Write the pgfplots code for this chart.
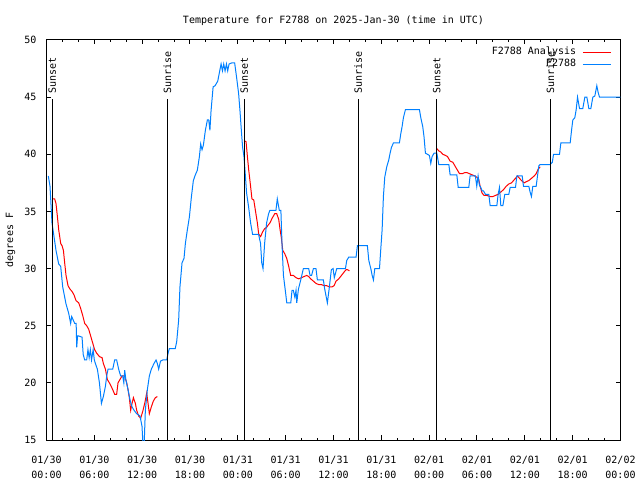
\documentclass[border=0pt]{standalone}
\usepackage{pgfplots}
\pgfplotsset{compat=1.18}
\usepackage{fontspec}
\setmainfont{DejaVu Sans Mono}
\definecolor{obsblue}{RGB}{0,128,255}
\begin{document}
\begin{tikzpicture}[font=\fontsize{10bp}{15bp}\selectfont]
\useasboundingbox (0,0) rectangle (640bp,480bp);
\begin{axis}[
  at={(46.5bp,40bp)}, anchor=south west,
  scale only axis, width=574bp, height=400bp,
  xmin=0, xmax=72, ymin=15, ymax=50,
  xtick={0,6,...,72}, minor x tick num=2,
  ytick={15,20,...,50},
  xticklabels={{01/30\\00:00},{01/30\\06:00},{01/30\\12:00},{01/30\\18:00},{01/31\\00:00},{01/31\\06:00},{01/31\\12:00},{01/31\\18:00},{02/01\\00:00},{02/01\\06:00},{02/01\\12:00},{02/01\\18:00},{02/02\\00:00}},
  xticklabel style={align=center, anchor=north, inner sep=0pt, yshift=-16bp},
  yticklabel style={anchor=east, inner sep=0pt, xshift=-10bp},
  /pgf/number format/assume math mode=true,
  tick align=inside,
  major tick length=4.5bp, minor tick length=2.5bp,
  axis line style={line width=1bp},
  every tick/.style={black, line width=1bp},
  title={Temperature for F2788 on 2025-Jan-30 (time in UTC)},
  title style={at={(axis description cs:0.5,1)}, anchor=base, yshift=11bp, inner sep=0pt},
  ylabel={degrees F},
  ylabel style={at={(axis description cs:-0.0627,0.5)}, anchor=center, inner sep=0pt},
  legend plot pos=right,
  legend cell align=right,
  legend image code/.code={\draw[#1, line width=1bp] (0bp,0bp) -- (28bp,0bp);},
  legend style={draw=none, fill=none, at={(axis description cs:1,1)}, anchor=north east,
    xshift=-9bp, yshift=-6bp, inner sep=0pt, row sep=0pt, column sep=4.7bp,
    nodes={inner sep=1.5bp, text height=7bp, text depth=2bp}},
]
\addplot[red, line width=1bp] coordinates {
(0.77,36.1)(1.02,36.1)(1.19,35.7)(1.36,34.6)(1.53,33.4)(1.78,32.2)(1.95,32.0)(2.12,31.6)(2.28,30.5)(2.45,29.4)
(2.70,28.5)(2.95,28.2)(3.20,28.0)(3.45,27.7)(3.70,27.2)(4.04,27.0)(4.29,26.5)(4.54,25.9)(4.79,25.2)(5.04,25.0)
(5.29,24.7)(5.54,24.1)(5.79,23.5)(6.04,22.9)(6.29,22.6)(6.64,22.3)(6.97,22.2)(7.13,21.7)(7.39,21.2)(7.63,20.3)
(7.97,19.9)(8.31,19.4)(8.55,19.0)(8.80,19.0)(8.97,20.0)(9.22,20.3)(9.47,20.6)(9.81,20.6)(10.06,20.0)(10.23,19.4)
(10.39,18.7)(10.56,17.6)(10.73,18.2)(10.90,18.7)(11.15,18.2)(11.31,17.6)(11.56,17.1)(11.81,16.9)(12.07,17.5)(12.32,18.2)
(12.57,19.1)(12.74,18.2)(12.90,17.3)(13.15,17.9)(13.40,18.4)(13.65,18.7)(13.90,18.8)};
\addlegendentry{F2788 Analysis}
\addplot[red, line width=1bp, forget plot] coordinates {
(24.78,41.2)(25.03,41.1)(25.20,39.8)(25.37,38.6)(25.60,37.2)(25.77,36.1)(26.00,36.0)(26.20,35.1)(26.45,34.0)(26.62,33.0)
(26.86,32.8)(27.10,33.2)(27.37,33.5)(27.60,33.6)(27.80,33.8)(28.03,34.0)(28.30,34.4)(28.63,34.8)(28.88,34.8)(29.13,34.3)
(29.30,33.4)(29.46,32.7)(29.63,31.6)(29.88,31.3)(30.13,30.9)(30.38,30.2)(30.63,29.4)(30.97,29.4)(31.30,29.2)(31.64,29.1)
(31.97,29.2)(32.30,29.3)(32.64,29.4)(32.89,29.3)(33.14,29.1)(33.48,28.9)(33.81,28.7)(34.15,28.6)(34.48,28.6)(34.82,28.5)
(35.15,28.5)(35.49,28.4)(35.82,28.4)(36.07,28.5)(36.32,28.9)(36.66,29.1)(37.00,29.4)(37.33,29.7)(37.58,29.9)(37.75,29.9)(38.00,29.8)};
\addplot[red, line width=1bp, forget plot] coordinates {
(48.96,40.5)(49.20,40.3)(49.46,40.2)(49.71,40.0)(50.05,39.9)(50.30,39.8)(50.63,39.4)(50.97,39.3)(51.22,39.0)(51.47,38.7)
(51.81,38.3)(52.14,38.3)(52.48,38.4)(52.73,38.4)(53.06,38.3)(53.40,38.2)(53.73,38.1)(53.97,38.0)(54.22,37.8)(54.39,37.2)
(54.64,36.6)(54.89,36.4)(55.23,36.4)(55.65,36.3)(55.98,36.3)(56.32,36.4)(56.65,36.5)(56.99,36.7)(57.32,36.9)(57.66,37.2)
(57.99,37.4)(58.33,37.5)(58.58,37.7)(58.83,37.9)(59.08,38.1)(59.33,37.9)(59.58,37.7)(59.92,37.5)(60.17,37.6)(60.50,37.7)
(60.84,37.9)(61.17,38.1)(61.42,38.3)(61.67,38.7)(61.92,38.9)};
\addplot[obsblue, line width=1bp] coordinates {
(0.23,38.1)(0.44,37.2)(0.69,34.0)(0.94,32.8)(1.19,31.6)(1.53,30.4)(1.78,30.2)(2.03,28.4)(2.28,27.5)(2.45,26.9)
(2.78,26.1)(3.03,25.2)(3.16,25.8)(3.35,25.5)(3.54,25.2)(3.72,25.2)(3.79,23.1)(3.90,24.1)(4.04,24.1)(4.46,24.0)
(4.60,22.5)(4.79,22.0)(5.04,22.0)(5.20,22.9)(5.35,22.2)(5.50,22.9)(5.65,22.0)(5.85,22.9)(6.00,22.0)(6.13,21.7)
(6.38,21.2)(6.64,20.0)(6.89,18.2)(7.13,18.8)(7.39,19.7)(7.55,20.6)(7.72,21.2)(8.31,21.2)(8.55,22.0)(8.80,22.0)
(9.05,21.2)(9.30,20.6)(9.56,20.6)(9.70,20.0)(9.81,21.1)(9.95,20.3)(10.23,19.4)(10.48,18.5)(10.73,17.9)(10.98,17.6)
(11.31,17.3)(11.73,17.1)(11.98,16.2)(12.10,14.6)(12.25,14.6)(12.40,17.6)(12.65,19.4)(12.90,20.6)(13.15,21.2)(13.49,21.7)
(13.74,22.0)(13.90,21.7)(14.07,21.2)(14.30,21.9)(14.58,22.0)(15.08,22.0)(15.29,22.7)(15.41,23.0)(16.15,23.0)(16.33,23.6)
(16.58,25.5)(16.74,28.4)(17.00,30.5)(17.25,30.9)(17.42,32.2)(17.67,33.4)(17.92,34.5)(18.18,36.3)(18.42,37.7)(18.67,38.2)
(18.92,38.6)(19.18,39.8)(19.34,40.9)(19.51,40.4)(19.68,40.8)(19.93,42.1)(20.18,43.0)(20.35,43.0)(20.50,42.1)(20.64,43.8)
(20.90,45.9)(21.15,46.0)(21.48,46.4)(21.73,47.3)(21.90,47.9)(22.07,47.3)(22.23,47.9)(22.40,47.3)(22.57,47.9)(22.73,47.3)
(22.90,47.9)(23.26,48.0)(23.60,48.0)(23.85,46.7)(24.10,45.3)(24.27,43.8)(24.44,42.1)(24.60,40.6)(24.77,39.8)(24.94,38.2)
(25.10,36.6)(25.35,35.4)(25.60,34.0)(25.85,33.0)(26.60,33.0)(26.85,32.2)(27.00,30.5)(27.16,30.0)(27.36,32.2)(27.61,34.0)
(27.86,34.8)(28.03,35.1)(28.78,35.1)(28.95,36.1)(29.20,35.1)(29.40,35.1)(29.55,32.0)(29.72,29.4)(29.97,28.0)(30.14,27.0)
(30.64,27.0)(30.80,28.1)(30.96,28.1)(31.15,27.5)(31.30,28.1)(31.39,27.0)(31.60,28.2)(31.89,29.0)(32.22,30.0)(32.89,30.0)
(33.06,29.4)(33.25,29.4)(33.48,30.0)(33.80,30.0)(33.98,29.0)(34.73,29.0)(34.90,28.2)(35.23,27.0)(35.45,28.2)(35.73,29.9)
(35.95,30.0)(36.10,29.2)(36.41,30.0)(37.50,30.0)(37.66,30.7)(37.91,31.0)(38.83,31.0)(39.00,32.0)(40.25,32.0)(40.43,30.7)
(40.68,30.0)(40.85,29.4)(41.01,29.0)(41.18,30.0)(41.77,30.0)(41.93,31.7)(42.10,33.4)(42.26,36.3)(42.43,38.0)(42.68,38.9)
(42.93,39.5)(43.10,40.1)(43.27,40.6)(43.52,41.0)(44.27,41.0)(44.44,41.8)(44.60,42.4)(44.77,43.2)(45.02,43.9)(46.78,43.9)
(46.95,43.2)(47.20,42.4)(47.36,41.5)(47.53,40.1)(48.03,39.9)(48.20,39.2)(48.37,39.8)(48.62,40.1)(48.96,40.1)(49.21,39.1)
(50.47,39.1)(50.63,38.2)(51.47,38.2)(51.64,37.1)(52.97,37.1)(53.13,38.1)(53.80,38.1)(53.97,37.2)(54.14,38.1)(54.30,37.3)
(54.47,37.1)(54.64,36.8)(54.81,36.8)(55.06,36.5)(55.48,36.5)(55.65,35.5)(56.49,35.5)(56.65,36.5)(56.82,37.1)(56.99,35.5)
(57.24,35.5)(57.49,36.5)(57.99,36.5)(58.16,37.1)(58.83,37.1)(59.00,38.1)(59.67,38.1)(59.83,37.2)(60.50,37.2)(60.66,36.7)
(60.83,36.3)(61.00,37.2)(61.42,37.2)(61.59,38.1)(61.76,39.0)(61.92,39.1)(63.18,39.1)(63.45,39.3)(63.60,40.0)(64.35,40.0)
(64.52,41.0)(65.69,41.0)(65.86,42.1)(66.02,43.0)(66.27,43.2)(66.44,43.9)(66.61,45.0)(66.86,44.0)(67.27,44.0)(67.53,45.0)
(67.78,45.0)(68.03,44.0)(68.28,44.0)(68.53,45.0)(68.78,45.1)(69.03,46.0)(69.20,45.4)(69.37,45.0)(72.00,45.0)};
\addlegendentry{F2788}
\addplot[black, line width=1bp, forget plot] coordinates {(0.73,15)(0.73,44.8)};
\addplot[black, line width=1bp, forget plot] coordinates {(15.16,15)(15.16,44.8)};
\addplot[black, line width=1bp, forget plot] coordinates {(24.8,15)(24.8,44.8)};
\addplot[black, line width=1bp, forget plot] coordinates {(39.1,15)(39.1,44.8)};
\addplot[black, line width=1bp, forget plot] coordinates {(48.96,15)(48.96,44.8)};
\addplot[black, line width=1bp, forget plot] coordinates {(63.2,15)(63.2,44.8)};
\node[rotate=90, anchor=west, inner sep=1bp] at (axis cs:0.73,45.2) {Sunset};
\node[rotate=90, anchor=west, inner sep=1bp] at (axis cs:15.16,45.2) {Sunrise};
\node[rotate=90, anchor=west, inner sep=1bp] at (axis cs:24.8,45.2) {Sunset};
\node[rotate=90, anchor=west, inner sep=1bp] at (axis cs:39.1,45.2) {Sunrise};
\node[rotate=90, anchor=west, inner sep=1bp] at (axis cs:48.96,45.2) {Sunset};
\node[rotate=90, anchor=west, inner sep=1bp] at (axis cs:63.2,45.2) {Sunrise};
\end{axis}
\end{tikzpicture}
\end{document}
